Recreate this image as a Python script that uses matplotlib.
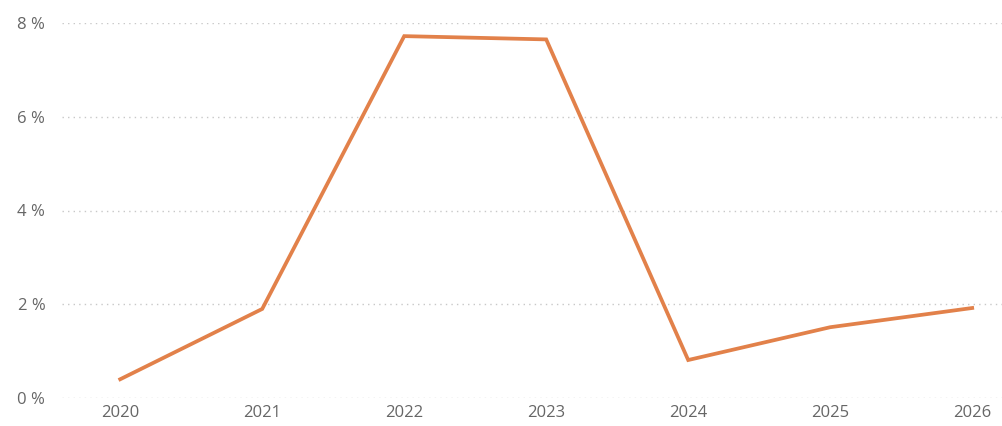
import matplotlib.pyplot as plt

years = ["2020", "2021", "2022", "2023", "2024", "2025", "2026"]
rate = [0.4, 1.9, 7.72, 7.65, 0.81, 1.51, 1.92]
yticks = [0, 2, 4, 6, 8]

plt.rcParams['font.family'] = ['Open Sans', 'DejaVu Sans']

fig = plt.figure(figsize=(10.02, 4.26), dpi=100)
ax = fig.add_axes([62 / 1002, 28 / 426, 940 / 1002, 375 / 426])

x = list(range(len(years)))
ax.plot(x, rate, color='#E2814A', linewidth=2.7, solid_joinstyle='miter', clip_on=False)

ax.set_xlim(-0.41, 6.21)
ax.set_ylim(0, 8)
ax.set_xticks(x, years)
ax.set_yticks(yticks, [f"{v} %" for v in yticks])
ax.grid(axis='y', linestyle=(0, (1, 3)), color='#c8c8c8', linewidth=1)
ax.tick_params(length=0, labelsize=12, labelcolor='#666666')
ax.tick_params(axis='y', pad=12)
ax.tick_params(axis='x', pad=5)
for s in ax.spines.values():
    s.set_visible(False)

fig.savefig('out.png', dpi=100)
